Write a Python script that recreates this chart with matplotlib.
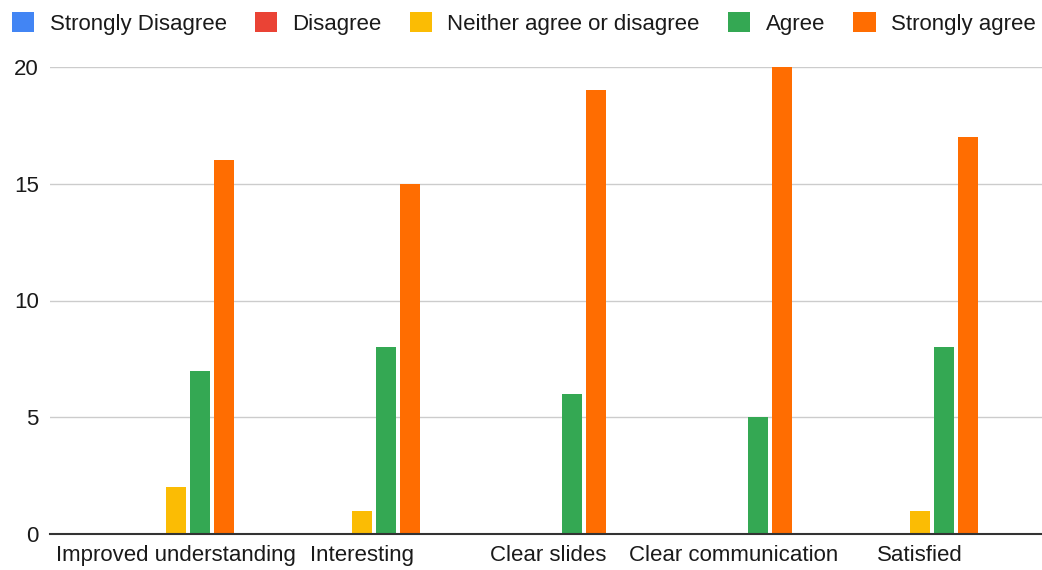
import matplotlib
matplotlib.use("Agg")
import matplotlib.pyplot as plt
from matplotlib.patches import Patch
import numpy as np

plt.rcParams['font.family'] = ['Liberation Sans', 'DejaVu Sans']

categories = ["Improved understanding", "Interesting", "Clear slides",
              "Clear communication", "Satisfied"]
series_names = ["Strongly Disagree", "Disagree", "Neither agree or disagree",
                "Agree", "Strongly agree"]
strongly_disagree = [0, 0, 0, 0, 0]
disagree = [0, 0, 0, 0, 0]
neither = [2, 1, 0, 0, 1]
agree = [7, 8, 6, 5, 8]
strongly_agree = [16, 15, 19, 20, 17]
yticks = [0, 5, 10, 15, 20]

series_values = [strongly_disagree, disagree, neither, agree, strongly_agree]
colors = ["#4285F4", "#EA4335", "#FBBC04", "#34A853", "#FF6D01"]

fig = plt.figure(figsize=(10.42, 5.70), dpi=100)
ax = fig.add_axes([50/1042, (570-534)/570, 1 - 50/1042, (534-67)/570])

x = np.arange(len(categories))
step = 24/186
width = 20/186
for i, (name, vals, c) in enumerate(zip(series_names, series_values, colors)):
    ax.bar(x + (i - 2) * step, vals, width=width, color=c, label=name,
           zorder=3, linewidth=0)

ax.set_xlim((50-176)/186, (1042-176)/186)
ax.set_ylim(0, 20)
ax.set_yticks(yticks)
ax.set_yticklabels([str(v) for v in yticks])
ax.set_xticks(x)
ax.set_xticklabels(categories)
ax.tick_params(axis='both', length=0, labelsize=16, colors='#1a1a1a')
ax.tick_params(axis='y', pad=8)
ax.tick_params(axis='x', pad=8)
for s in ax.spines.values():
    s.set_visible(False)
ax.yaxis.grid(True, color='#cccccc', linewidth=1, zorder=0)
ax.axhline(0, color='#333333', linewidth=1.5, zorder=4, clip_on=False)

handles = [Patch(facecolor=c, edgecolor='none') for c in colors]
fig.legend(handles, series_names, loc='upper left', bbox_to_anchor=(0.0, 1.0),
           ncol=5, frameon=False, fontsize=16, handlelength=1.0,
           handleheight=1.0, handletextpad=0.68, columnspacing=1.28,
           borderaxespad=0.25, borderpad=0.3, labelcolor='#1a1a1a')

fig.savefig("out.png", dpi=100)
